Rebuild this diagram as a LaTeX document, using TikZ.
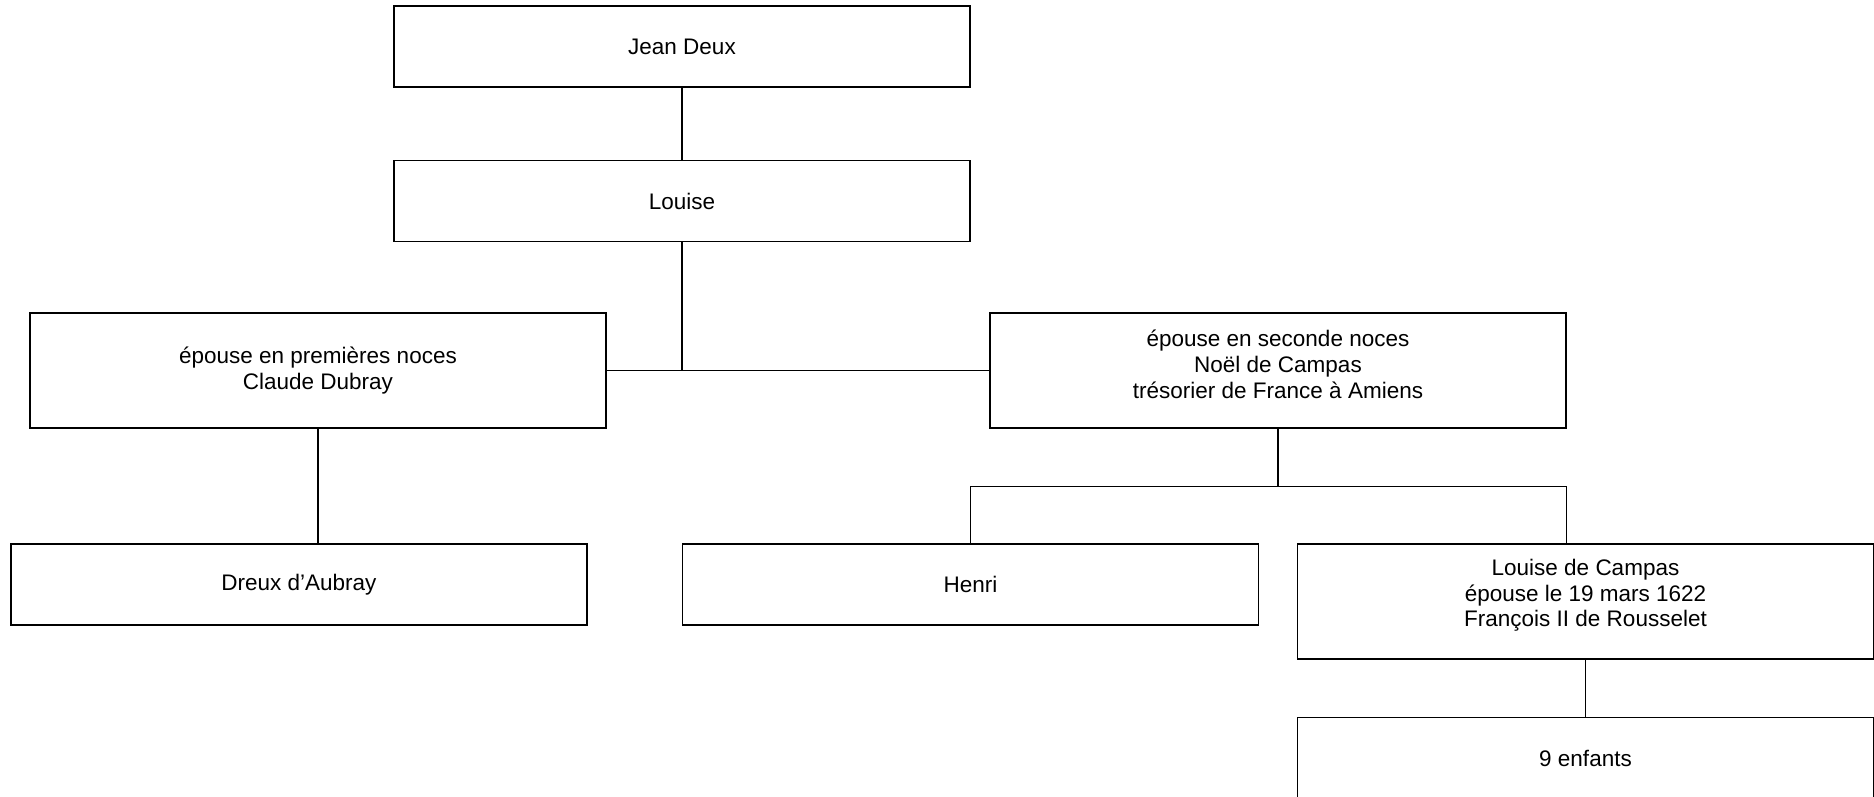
\documentclass[tikz,border=0pt]{standalone}
\usepackage{fontspec}
\setmainfont{Liberation Sans}
\usetikzlibrary{positioning,calc}

\begin{document}
\begin{tikzpicture}[x=1pt,y=1pt,thick,
    main node/.style={rectangle,draw,line width=1.6pt,inner sep=0pt,
      minimum width=576pt,minimum height=81pt,align=center,
      font=\fontsize{22.5}{25.8}\selectfont},
    tall node/.style={main node,minimum height=115pt},
    link/.style={line width=1.3pt}]
    \useasboundingbox (0,0) rectangle (1874,-797);
    % nodes
      \node[main node] (jean) at (682,-46.5) {Jean Deux};
      \node[main node] (louise) [below = 72pt of jean] {Louise};
      \node[tall node] (first) at (318,-370.5) {épouse en premières noces\\Claude Dubray};
      \node[tall node,text depth=12pt] (second) at (1278,-370.5) {épouse en seconde noces\\Noël de Campas\\trésorier de France à Amiens};
      \node[main node] (dreux) at (299,-584.5) {Dreux d’Aubray};
      \node[main node] (henri) at (970.5,-584.5) {Henri};
      \node[tall node,text depth=17pt] (campas) at (1585.5,-601.5) {Louise de Campas\\épouse le 19 mars 1622\\François II de Rousselet};
      \node[main node] (enfants) [below = 57pt of campas] {9 enfants};
      \coordinate (fork) at ($(second.south)+(0,-58)$);
      %edges
      \draw[link] (jean) -- (louise);
      \draw[link] (louise) -- (louise |- first.east);
      \draw[link] (first.east) -- (second.west);
      \draw[link] (first.south) -- (first.south |- dreux.north);
      \draw[link] (second.south) -- (fork);
      \draw[link] (henri.north) |- (second.east |- fork) -- (second.east |- campas.north);
      \draw[link] (campas) -- (enfants);
    \end{tikzpicture}
\end{document}
